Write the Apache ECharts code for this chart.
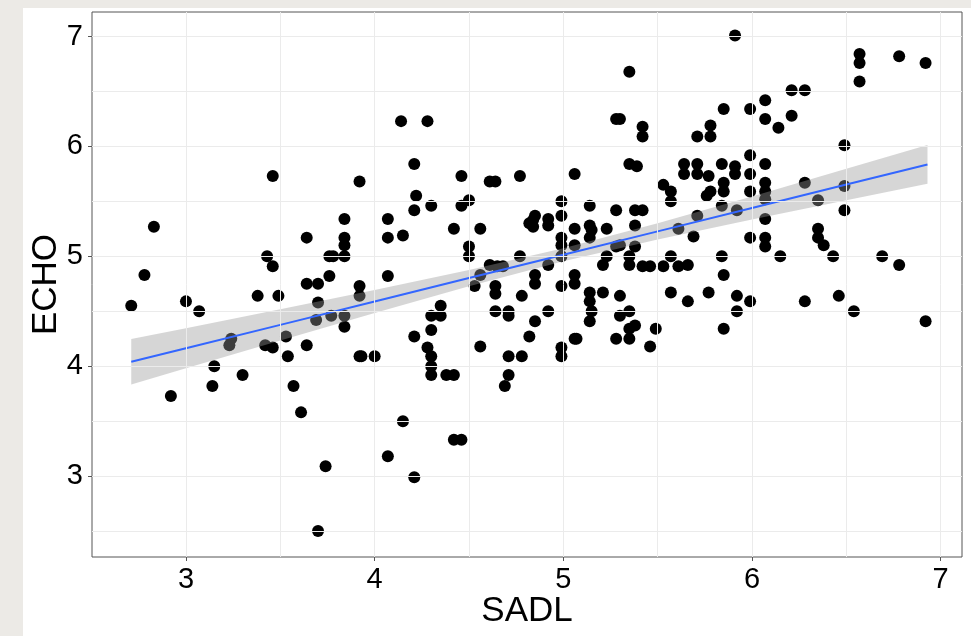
<!DOCTYPE html>
<html>
<head>
<meta charset="utf-8">
<script src="https://cdn.jsdelivr.net/npm/echarts@6/dist/echarts.min.js"></script>
<style>
    html, body { margin: 0; padding: 0; width: 971px; height: 636px; background: #eceae6; overflow: hidden; }
    #sheet { position: absolute; left: 23px; top: 8px; right: 0; bottom: 0; background: #fff; }
    #chart { position: absolute; left: 0; top: 0; width: 971px; height: 636px; }
</style>
</head>
<body>
<div id="sheet"></div>
<div id="chart"></div>
<script>
// points (SADL, ECHO)
const sadl = [
    3.46, 2.83, 3.64, 3.43, 3.46, 2.78, 3.64, 3.70,
    2.71, 3.00, 3.07, 3.38, 3.49, 3.70, 3.69, 3.24, 3.23, 3.42, 3.46, 3.53, 3.64, 3.54, 3.15, 3.30, 3.14, 2.92, 3.57, 3.61, 3.70,
    4.14, 4.28, 4.21, 3.92, 4.46, 4.61, 4.64, 4.77, 4.22, 4.30, 4.21, 4.46, 4.50, 3.84, 4.07, 3.84, 3.84, 4.07, 4.15, 4.42, 4.56,
    4.82, 3.76, 3.78, 3.84, 4.50, 4.50, 4.77, 3.76, 3.92, 4.07, 4.53, 4.56, 4.61, 4.65, 4.68, 4.64,
    3.92, 3.77, 3.84, 3.84, 3.92, 3.93, 4.00, 4.21, 4.35, 4.30, 4.35, 4.30, 4.28, 4.30, 4.30, 4.30, 4.38, 4.42, 4.15, 4.42, 4.46,
    4.07, 3.74, 4.21, 4.64, 4.64, 4.78, 4.71, 4.71, 4.56, 4.71, 4.78, 4.71, 4.69, 4.82,
    5.91, 5.35, 5.85, 5.28, 5.30, 5.42, 5.42, 5.71, 5.78, 5.78, 5.35, 5.39, 5.64, 5.64, 5.71, 5.71, 5.77, 5.84, 5.91, 5.91,
    5.85, 5.85, 5.53, 5.57, 5.57, 5.78, 5.76, 5.06, 4.99, 5.14, 4.99, 4.85, 4.84, 4.92, 4.92, 4.84, 5.28, 5.38, 5.42, 5.06,
    5.14, 5.15, 5.23, 5.38, 4.99, 4.99, 5.14, 5.06, 4.99, 5.28, 5.30, 5.38, 5.61, 5.69, 5.71, 5.84, 5.92, 4.92, 5.23, 5.21,
    5.35, 5.35, 5.42, 5.46, 5.53, 5.57, 5.61, 5.66, 5.84, 5.85, 4.85, 4.85, 4.99, 5.06, 5.06,
    5.14, 5.14, 5.15, 5.14, 5.21, 5.30, 4.92, 4.85, 4.99, 4.99, 5.06, 5.07, 5.30, 5.35, 5.35, 5.38, 5.28, 5.35, 5.46, 5.49,
    5.57, 5.66, 5.77, 5.85, 5.92, 5.92,
    6.57, 6.57, 6.57, 6.78, 6.92, 6.21, 6.28, 6.07, 5.99, 6.07, 6.21, 6.14, 6.49, 5.99, 5.99, 6.07, 6.07, 6.07, 6.07, 5.99,
    6.28, 6.35, 6.49, 6.49, 6.07, 5.99, 6.07, 6.07, 6.15, 6.35, 6.35, 6.38, 6.43, 6.69, 6.78,
    5.99, 6.28, 6.46, 6.54, 6.92
]
const echo = [
    5.73, 5.27, 5.17, 5.00, 4.91, 4.83, 4.75, 4.75,
    4.55, 4.59, 4.50, 4.64, 4.64, 4.58, 4.42, 4.25, 4.19, 4.19, 4.17, 4.27, 4.19, 4.09, 4.00, 3.92, 3.82, 3.73, 3.82, 3.58, 2.50,
    6.23, 6.23, 5.84, 5.68, 5.73, 5.68, 5.68, 5.73, 5.55, 5.46, 5.42, 5.46, 5.51, 5.34, 5.34, 5.17, 5.10, 5.17, 5.19, 5.25, 5.25,
    5.30, 5.00, 5.00, 5.00, 5.09, 5.00, 5.00, 4.82, 4.73, 4.82, 4.73, 4.83, 4.92, 4.91, 4.91, 4.73,
    4.64, 4.46, 4.46, 4.36, 4.09, 4.09, 4.09, 4.27, 4.55, 4.46, 4.46, 4.33, 4.17, 4.09, 4.00, 3.92, 3.92, 3.92, 3.50, 3.33, 3.33,
    3.18, 3.09, 2.99, 4.66, 4.50, 4.64, 4.50, 4.46, 4.18, 4.09, 4.09, 3.92, 3.82, 4.27,
    7.01, 6.68, 6.34, 6.25, 6.25, 6.18, 6.09, 6.09, 6.19, 6.09, 5.84, 5.82, 5.84, 5.75, 5.84, 5.75, 5.73, 5.84, 5.82, 5.75,
    5.67, 5.59, 5.65, 5.59, 5.50, 5.59, 5.55, 5.75, 5.50, 5.46, 5.37, 5.37, 5.33, 5.34, 5.28, 5.27, 5.42, 5.42, 5.42, 5.25,
    5.28, 5.24, 5.25, 5.28, 5.17, 5.10, 5.17, 5.10, 5.00, 5.09, 5.10, 5.09, 5.25, 5.18, 5.37, 5.46, 5.42, 4.92, 5.00, 4.92,
    5.00, 4.92, 4.91, 4.91, 4.91, 5.00, 4.91, 4.92, 5.00, 4.83, 4.83, 4.75, 4.73, 4.83, 4.75,
    4.67, 4.59, 4.50, 4.41, 4.67, 4.64, 4.50, 4.41, 4.17, 4.09, 4.25, 4.25, 4.46, 4.50, 4.34, 4.37, 4.25, 4.25, 4.18, 4.34,
    4.67, 4.59, 4.67, 4.34, 4.64, 4.50,
    6.84, 6.76, 6.59, 6.82, 6.76, 6.51, 6.51, 6.42, 6.34, 6.25, 6.28, 6.17, 6.01, 5.92, 5.75, 5.84, 5.67, 5.59, 5.52, 5.59,
    5.67, 5.51, 5.64, 5.42, 5.34, 5.17, 5.17, 5.09, 5.00, 5.25, 5.17, 5.10, 5.00, 5.00, 4.92,
    4.59, 4.59, 4.64, 4.50, 4.41
]

// fitted line and its confidence band
const fitX = [2.71, 3.0, 3.5, 4.0, 4.5, 5.0, 5.5, 6.0, 6.5, 6.93]
const fitY = [4.040, 4.163, 4.376, 4.589, 4.802, 5.014, 5.227, 5.440, 5.653, 5.836]
const bandLow = [3.833, 3.981, 4.234, 4.484, 4.728, 4.954, 5.153, 5.335, 5.511, 5.660]
const bandHigh = [4.247, 4.346, 4.519, 4.694, 4.876, 5.074, 5.301, 5.545, 5.796, 6.012]

// axes
const xTicks = [3, 4, 5, 6, 7]
const yTicks = [3, 4, 5, 6, 7]
const xGridLines = [2.5, 3, 3.5, 4, 4.5, 5, 5.5, 6, 6.5, 7]
const yGridLines = [2.5, 3, 3.5, 4, 4.5, 5, 5.5, 6, 6.5, 7]

const font = "'Liberation Sans', Arial, sans-serif"

const bandPolygon = (params, api) => {
    if (params.dataIndex !== 0) return null
    const upper = fitX.map((x, i) => api.coord([x, bandHigh[i]]))
    const lower = fitX.map((x, i) => api.coord([x, bandLow[i]])).reverse()
    return {
        type: 'polygon',
        shape: { points: upper.concat(lower) },
        style: { fill: 'rgba(153,153,153,0.4)' }
    }
}

const gridLines = [
    ...xGridLines.map((v) => ({ xAxis: v })),
    ...yGridLines.map((v) => ({ yAxis: v }))
]

const options = {
    animation: false,
    grid: {
        left: 92,
        right: 9,
        top: 12,
        bottom: 79,
        show: true,
        borderColor: '#555',
        borderWidth: 1,
        backgroundColor: 'transparent'
    },
    xAxis: {
        type: 'value',
        min: 2.502,
        max: 7.113,
        axisLine: { show: false },
        axisTick: {
            show: true,
            length: 4,
            customValues: xTicks,
            lineStyle: { color: '#555' }
        },
        axisLabel: {
            customValues: xTicks,
            fontSize: 29,
            color: '#000',
            fontFamily: font,
            margin: 8,
            formatter: (v) => (Number.isInteger(v) ? String(v) : '')
        },
        splitLine: { show: false },
        name: 'SADL',
        nameLocation: 'middle',
        nameMoveOverlap: false,
        nameGap: 37,
        nameTextStyle: { fontSize: 35, color: '#000', fontFamily: font }
    },
    yAxis: {
        type: 'value',
        min: 2.264,
        max: 7.223,
        axisLine: { show: false },
        axisTick: {
            show: true,
            length: 4,
            customValues: yTicks,
            lineStyle: { color: '#555' }
        },
        axisLabel: {
            customValues: yTicks,
            fontSize: 29,
            color: '#000',
            fontFamily: font,
            margin: 9,
            formatter: (v) => (Number.isInteger(v) ? String(v) : '')
        },
        splitLine: { show: false },
        name: 'ECHO',
        nameLocation: 'middle',
        nameMoveOverlap: false,
        nameGap: 28,
        nameTextStyle: { fontSize: 35, color: '#000', fontFamily: font }
    },
    series: [
        {
            type: 'line',
            data: [],
            z: 0,
            silent: true,
            markLine: {
                silent: true,
                symbol: ['none', 'none'],
                label: { show: false },
                lineStyle: { color: '#ebebeb', width: 1, type: 'solid' },
                emphasis: { disabled: true },
                data: gridLines
            }
        },
        {
            type: 'scatter',
            z: 2,
            symbolSize: 12,
            itemStyle: { color: '#000', opacity: 1 },
            data: sadl.map((x, i) => [x, echo[i]])
        },
        {
            type: 'custom',
            z: 3,
            silent: true,
            clip: false,
            renderItem: bandPolygon,
            encode: { x: 0, y: [1, 2] },
            data: fitX.map((x, i) => [x, bandLow[i], bandHigh[i]])
        },
        {
            type: 'line',
            z: 4,
            silent: true,
            showSymbol: false,
            lineStyle: { color: '#3366FF', width: 2 },
            data: fitX.map((x, i) => [x, fitY[i]])
        }
    ]
}

const chartInstance = echarts.init(document.getElementById('chart'))
chartInstance.setOption(options)
</script>
</body>
</html>
